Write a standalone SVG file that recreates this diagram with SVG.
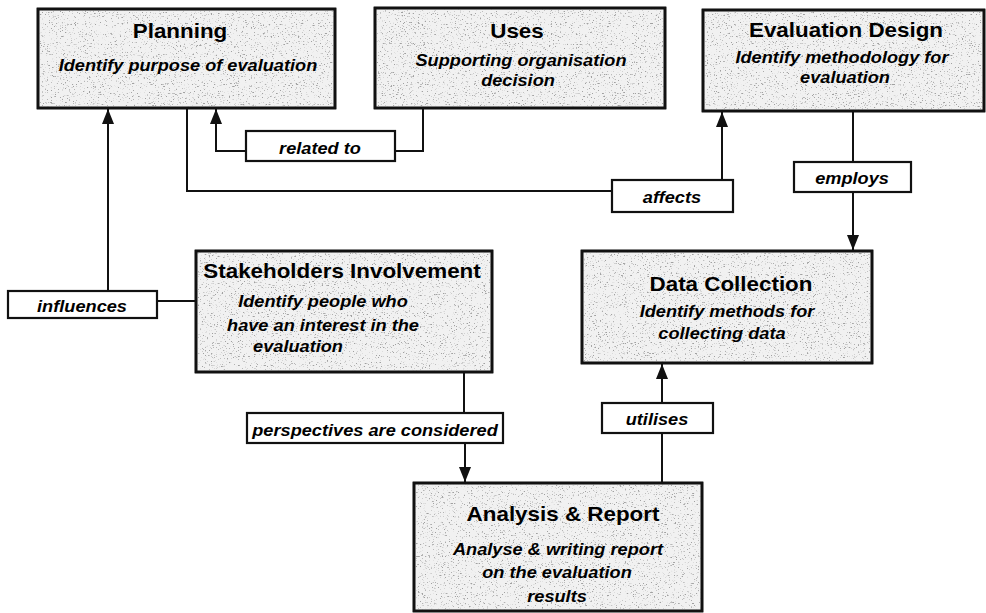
<svg xmlns="http://www.w3.org/2000/svg" width="986" height="613" viewBox="0 0 986 613">
  <defs>
    <style>
      .box { fill: #f1f1f1; stroke: #111; stroke-width: 2.6; }
      .grain { fill: #fff; filter: url(#grain); }
      .edge { fill: none; stroke: #111; stroke-width: 2.6; }
      .tag { fill: #fff; stroke: #111; stroke-width: 2.2; }
      .wire { fill: none; stroke: #111; stroke-width: 2; }
      .title { font-family: "Liberation Sans", Arial, sans-serif; font-weight: bold; font-size: 20px; fill: #000; text-anchor: middle; }
      .sub { font-family: "Liberation Sans", Arial, sans-serif; font-weight: bold; font-style: italic; font-size: 17px; fill: #000; text-anchor: middle; }
    </style>
    <filter id="grain" x="0" y="0" width="1" height="1">
      <feTurbulence type="fractalNoise" baseFrequency="0.55 0.9" numOctaves="2" seed="7" result="n"/>
      <feColorMatrix in="n" type="matrix" values="0 0 0 0 0.35  0 0 0 0 0.35  0 0 0 0 0.35  7 0 0 0 -4.3"/>
    </filter>
    <marker id="arrow" viewBox="0 0 15 12" refX="15" refY="6" markerWidth="15" markerHeight="12" markerUnits="userSpaceOnUse" orient="auto">
      <path d="M0,0 L15,6 L0,12 Z" fill="#111"/>
    </marker>
  </defs>

  <rect width="986" height="613" fill="#fff"/>

  <!-- connectors -->
  <g id="connectors">
    <!-- influences -> Planning -->
    <path class="wire" d="M108,291 V109" marker-end="url(#arrow)"/>
    <path class="wire" d="M157,301 H196"/>
    <!-- Uses -> related to -> Planning -->
    <path class="wire" d="M423,108 V151 H395"/>
    <path class="wire" d="M246,151 H216 V109" marker-end="url(#arrow)"/>
    <!-- Planning -> affects -> Evaluation Design -->
    <path class="wire" d="M187,108 V191 H612"/>
    <path class="wire" d="M722,180 V112" marker-end="url(#arrow)"/>
    <!-- Evaluation Design -> employs -> Data Collection -->
    <path class="wire" d="M853,111 V162"/>
    <path class="wire" d="M853,192 V250" marker-end="url(#arrow)"/>
    <!-- Stakeholders -> perspectives -> Analysis -->
    <path class="wire" d="M464,372 V413"/>
    <path class="wire" d="M465,443 V482" marker-end="url(#arrow)"/>
    <!-- Analysis -> utilises -> Data Collection -->
    <path class="wire" d="M662,483 V433"/>
    <path class="wire" d="M662,403 V364" marker-end="url(#arrow)"/>
  </g>

  <!-- connector labels -->
  <g id="label-related">
    <rect class="tag" x="246" y="131" width="149" height="30"/>
    <text class="sub" transform="translate(320,154) scale(1.07,1)">related to</text>
  </g>
  <g id="label-affects">
    <rect class="tag" x="612" y="180" width="121" height="32"/>
    <text class="sub" transform="translate(672,203) scale(1.07,1)">affects</text>
  </g>
  <g id="label-employs">
    <rect class="tag" x="794" y="162" width="117" height="30"/>
    <text class="sub" transform="translate(852,184) scale(1.07,1)">employs</text>
  </g>
  <g id="label-influences">
    <rect class="tag" x="8" y="291" width="149" height="27"/>
    <text class="sub" transform="translate(82,312) scale(1.07,1)">influences</text>
  </g>
  <g id="label-perspectives">
    <rect class="tag" x="247" y="413" width="256" height="30"/>
    <text class="sub" transform="translate(375,436) scale(1.07,1)">perspectives are considered</text>
  </g>
  <g id="label-utilises">
    <rect class="tag" x="602" y="403" width="111" height="30"/>
    <text class="sub" transform="translate(657,425) scale(1.07,1)">utilises</text>
  </g>

  <!-- nodes -->
  <g id="planning">
    <rect class="box" x="38" y="9" width="297" height="99"/>
    <rect class="grain" x="39" y="10" width="295" height="97"/>
    <rect class="edge" x="38" y="9" width="297" height="99"/>
    <text class="title" transform="translate(180,38) scale(1.12,1)">Planning</text>
    <text class="sub" transform="translate(188,71) scale(1.07,1)">Identify purpose of evaluation</text>
  </g>

  <g id="uses">
    <rect class="box" x="375" y="8" width="290" height="100"/>
    <rect class="grain" x="376" y="9" width="288" height="98"/>
    <rect class="edge" x="375" y="8" width="290" height="100"/>
    <text class="title" transform="translate(517,38) scale(1.12,1)">Uses</text>
    <text class="sub" transform="translate(521,66) scale(1.07,1)">Supporting organisation</text>
    <text class="sub" transform="translate(518,86) scale(1.07,1)">decision</text>
  </g>

  <g id="evaluation-design">
    <rect class="box" x="703" y="10" width="281" height="101"/>
    <rect class="grain" x="704" y="11" width="279" height="99"/>
    <rect class="edge" x="703" y="10" width="281" height="101"/>
    <text class="title" transform="translate(846,37) scale(1.12,1)">Evaluation Design</text>
    <text class="sub" transform="translate(842,63) scale(1.07,1)">Identify methodology for</text>
    <text class="sub" transform="translate(845,83) scale(1.07,1)">evaluation</text>
  </g>

  <g id="stakeholders">
    <rect class="box" x="196" y="251" width="296" height="121"/>
    <rect class="grain" x="197" y="252" width="294" height="119"/>
    <rect class="edge" x="196" y="251" width="296" height="121"/>
    <text class="title" transform="translate(342,278) scale(1.12,1)">Stakeholders Involvement</text>
    <text class="sub" transform="translate(323,307) scale(1.07,1)">Identify people who</text>
    <text class="sub" transform="translate(323,331) scale(1.07,1)">have an interest in the</text>
    <text class="sub" transform="translate(298,352) scale(1.07,1)">evaluation</text>
  </g>

  <g id="data-collection">
    <rect class="box" x="582" y="251" width="290" height="112"/>
    <rect class="grain" x="583" y="252" width="288" height="110"/>
    <rect class="edge" x="582" y="251" width="290" height="112"/>
    <text class="title" transform="translate(731,291) scale(1.12,1)">Data Collection</text>
    <text class="sub" transform="translate(727,317) scale(1.07,1)">Identify methods for</text>
    <text class="sub" transform="translate(722,339) scale(1.07,1)">collecting data</text>
  </g>

  <g id="analysis-report">
    <rect class="box" x="414" y="483" width="288" height="128"/>
    <rect class="grain" x="415" y="484" width="286" height="126"/>
    <rect class="edge" x="414" y="483" width="288" height="128"/>
    <text class="title" transform="translate(563,521) scale(1.12,1)">Analysis &amp; Report</text>
    <text class="sub" transform="translate(558,555) scale(1.07,1)">Analyse &amp; writing report</text>
    <text class="sub" transform="translate(557,578) scale(1.07,1)">on the evaluation</text>
    <text class="sub" transform="translate(557,602) scale(1.07,1)">results</text>
  </g>
</svg>
